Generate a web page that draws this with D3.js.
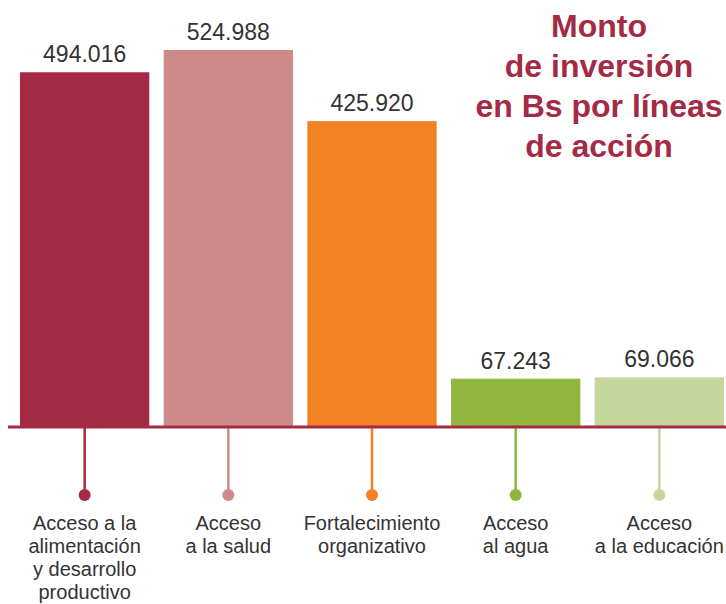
<!DOCTYPE html>
<html>
<head>
<meta charset="utf-8">
<script src="https://cdn.jsdelivr.net/npm/d3@7"></script>
<style>
  body { margin: 0; background: #fff; }
  svg { display: block; }
</style>
</head>
<body>
<script>
// data
const categories = ["alimentacion", "salud", "fortalecimiento", "agua", "educacion"];
const values = [494016, 524988, 425920, 67243, 69066];
const valueLabels = ["494.016", "524.988", "425.920", "67.243", "69.066"];
const categoryLabels = [
  ["Acceso a la", "alimentación", "y desarrollo", "productivo"],
  ["Acceso", "a la salud"],
  ["Fortalecimiento", "organizativo"],
  ["Acceso", "al agua"],
  ["Acceso", "a la educación"]
];
const colors = ["#a52a44", "#cc8b89", "#f28124", "#8fb73e", "#c5d69b"];
const titleLines = ["Monto", "de inversión", "en Bs por líneas", "de acción"];

const width = 726, height = 604;
const baseline = 427;

const svg = d3.select("body").append("svg")
  .attr("width", width)
  .attr("height", height);

const x = d3.scaleBand()
  .domain(categories)
  .range([20, 724])
  .paddingInner(0.1)
  .paddingOuter(0);

const y = d3.scaleLinear()
  .domain([0, 524988])
  .range([baseline, 50]);

const cx = (i) => x(categories[i]) + x.bandwidth() / 2;

// bars
svg.selectAll("rect.bar")
  .data(values)
  .enter()
  .append("rect")
  .attr("class", "bar")
  .attr("x", (d, i) => x(categories[i]))
  .attr("y", d => y(d))
  .attr("width", x.bandwidth())
  .attr("height", d => baseline - y(d))
  .style("fill", (d, i) => colors[i]);

// value labels
svg.selectAll("text.value")
  .data(values)
  .enter()
  .append("text")
  .attr("class", "value")
  .attr("x", (d, i) => cx(i))
  .attr("y", d => y(d) - 10)
  .attr("text-anchor", "middle")
  .style("font-family", "'Liberation Sans', Arial, sans-serif")
  .style("font-size", "23px")
  .style("fill", "#333")
  .text((d, i) => valueLabels[i]);

// stems + dots
svg.selectAll("line.stem")
  .data(categories)
  .enter()
  .append("line")
  .attr("x1", (d, i) => cx(i))
  .attr("x2", (d, i) => cx(i))
  .attr("y1", baseline)
  .attr("y2", 494)
  .style("stroke", (d, i) => colors[i])
  .style("stroke-width", 2.5);

svg.selectAll("circle.dot")
  .data(categories)
  .enter()
  .append("circle")
  .attr("cx", (d, i) => cx(i))
  .attr("cy", 495)
  .attr("r", 6)
  .style("fill", (d, i) => colors[i]);

// baseline
svg.append("line")
  .attr("x1", 8).attr("x2", width)
  .attr("y1", baseline).attr("y2", baseline)
  .style("stroke", "#a52a44")
  .style("stroke-width", 3);

// category labels
const lab = svg.selectAll("text.cat")
  .data(categoryLabels)
  .enter()
  .append("text")
  .attr("class", "cat")
  .attr("text-anchor", "middle")
  .style("font-family", "'Liberation Sans', Arial, sans-serif")
  .style("font-size", "20px")
  .style("fill", "#333");

lab.each(function (lines, i) {
  d3.select(this).selectAll("tspan")
    .data(lines)
    .enter()
    .append("tspan")
    .attr("x", cx(i))
    .attr("y", (l, j) => 530 + j * 23)
    .text(l => l);
});

// title
svg.append("text")
  .attr("text-anchor", "middle")
  .style("font-family", "'Liberation Sans', Arial, sans-serif")
  .style("font-weight", "bold")
  .style("font-size", "32px")
  .style("fill", "#a52a44")
  .selectAll("tspan")
  .data(titleLines)
  .enter()
  .append("tspan")
  .attr("x", 599)
  .attr("y", (d, i) => 37 + i * 40)
  .text(d => d);
</script>
</body>
</html>
